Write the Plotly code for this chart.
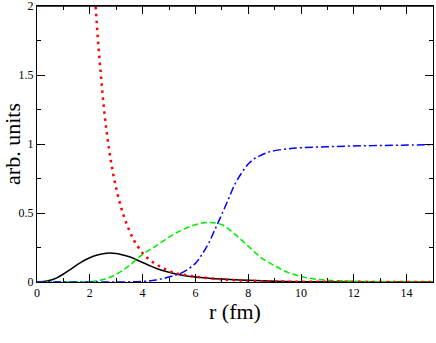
import plotly.graph_objects as go

# values
R_BLACK = [0, 0.25, 0.5, 0.75, 1.0, 1.25, 1.5, 1.75, 2.0, 2.25, 2.5, 2.75, 3.0, 3.25, 3.5, 3.75, 4.0, 4.25, 4.5, 4.75, 5.0, 5.5, 6.0, 6.5, 7.0, 8.0, 9.0, 10.0, 12.0, 15.0]
Y_BLACK = [0, 0.003, 0.012, 0.03, 0.058, 0.09, 0.122, 0.152, 0.176, 0.194, 0.205, 0.21, 0.206, 0.196, 0.183, 0.163, 0.141, 0.12, 0.1, 0.084, 0.07, 0.049, 0.036, 0.028, 0.022, 0.012, 0.005, 0.002, 0.0005, 0]

R_GREEN = [0, 1.0, 2.0, 2.5, 3.0, 3.5, 4.0, 4.5, 5.0, 5.5, 6.0, 6.5, 7.0, 7.5, 8.0, 8.5, 9.0, 9.5, 10.0, 10.5, 11.0, 12.0, 13.0, 15.0]
Y_GREEN = [0, 0, 0.002, 0.018, 0.055, 0.12, 0.2, 0.26, 0.325, 0.378, 0.415, 0.432, 0.415, 0.345, 0.26, 0.175, 0.118, 0.07, 0.04, 0.022, 0.013, 0.006, 0.002, 0]

R_BLUE = [0, 3.0, 4.0, 4.5, 5.0, 5.5, 6.0, 6.25, 6.5, 6.75, 7.0, 7.25, 7.5, 7.75, 8.0, 8.25, 8.5, 8.75, 9.0, 9.5, 10.0, 11.0, 12.0, 13.0, 14.0, 15.0]
Y_BLUE = [0, 0, 0.004, 0.014, 0.036, 0.068, 0.135, 0.2, 0.28, 0.385, 0.49, 0.6, 0.71, 0.79, 0.855, 0.895, 0.92, 0.94, 0.952, 0.965, 0.973, 0.98, 0.986, 0.989, 0.992, 0.995]

R_RED = [2.1, 2.22, 2.31, 2.42, 2.54, 2.7, 2.92, 3.25, 3.65, 4.0, 4.25, 4.5, 4.75, 5.0, 5.3, 6.0, 7.0, 8.0, 9.0, 10.0, 12.0, 15.0]
Y_RED = [2.4, 2.0, 1.75, 1.5, 1.25, 1.0, 0.75, 0.5, 0.31, 0.21, 0.163, 0.13, 0.103, 0.08, 0.062, 0.039, 0.019, 0.009, 0.004, 0.002, 0.001, 0]

X_TICKS = [0, 2, 4, 6, 8, 10, 12, 14]
Y_TICKS = [0, 0.5, 1, 1.5, 2]
Y_TICK_LABELS = ["0", "0.5", "1", "1.5", "2"]

SERIF = "Liberation Serif, Times New Roman, Times, serif"

fig = go.Figure()

fig.add_trace(go.Scatter(x=R_BLACK, y=Y_BLACK, mode="lines",
                         line=dict(color="black", width=1.5, shape="spline")))
fig.add_trace(go.Scatter(x=R_GREEN, y=Y_GREEN, mode="lines",
                         line=dict(color="#00ee00", width=1.5, dash="6px,3px", shape="spline")))
fig.add_trace(go.Scatter(x=R_BLUE, y=Y_BLUE, mode="lines",
                         line=dict(color="#0000ff", width=1.5, dash="8px,3px,2px,3px", shape="spline")))
fig.add_trace(go.Scatter(x=R_RED, y=Y_RED, mode="lines",
                         line=dict(color="#ff0000", width=2.5, dash="2.5px,4.5px", shape="spline")))

axis_style = dict(
    showline=True, linecolor="black", linewidth=1, mirror="ticks",
    ticks="inside", ticklen=8, tickcolor="black", tickwidth=1,
    showgrid=False, zeroline=False, ticklabeloverflow="allow",
    tickfont=dict(family=SERIF, size=12, color="black"),
)

fig.update_xaxes(
    range=[0, 15], tickvals=X_TICKS,
    minor=dict(dtick=1, ticks="inside", ticklen=4, tickcolor="black", showgrid=False),
    **axis_style,
)
fig.update_yaxes(
    range=[0, 2], tickvals=Y_TICKS, ticktext=Y_TICK_LABELS,
    minor=dict(dtick=0.25, ticks="inside", ticklen=4, tickcolor="black", showgrid=False),
    title=dict(text="arb. units", font=dict(family=SERIF, size=22, color="black"), standoff=2),
    **axis_style,
)

# x title placed by hand, closer to the tick labels than plotly's own title
fig.add_annotation(text="r (fm)", xref="paper", yref="paper", x=0.5, y=-0.108,
                   xanchor="center", yanchor="middle", showarrow=False,
                   font=dict(family=SERIF, size=22, color="black"))

# top edge of the frame with its ticks, as an overlaid top axis
fig.update_layout(
    xaxis2=dict(
        overlaying="x", side="top", range=[0, 15], tickvals=X_TICKS,
        showticklabels=False, showline=True, linecolor="black", linewidth=1,
        ticks="inside", ticklen=8, tickcolor="black", showgrid=False, zeroline=False,
        minor=dict(dtick=1, ticks="inside", ticklen=4, tickcolor="black", showgrid=False),
    )
)
fig.add_trace(go.Scatter(x=[0], y=[0], xaxis="x2", mode="lines", showlegend=False,
                         hoverinfo="skip", line=dict(color="rgba(0,0,0,0)")))

fig.add_shape(type="line", xref="x", yref="y", x0=0, x1=15, y0=2, y1=2,
              line=dict(color="black", width=1.5), layer="above")

fig.update_layout(
    width=436, height=343,
    margin=dict(l=37, r=3, t=6, b=61, autoexpand=False),
    plot_bgcolor="white", paper_bgcolor="white",
    showlegend=False,
)

# page body has a default 8px margin; drop it so the figure sits at the window corner
fig.write_html("out.html", config={"displayModeBar": False},
               post_script="document.body.style.margin='0px';")
